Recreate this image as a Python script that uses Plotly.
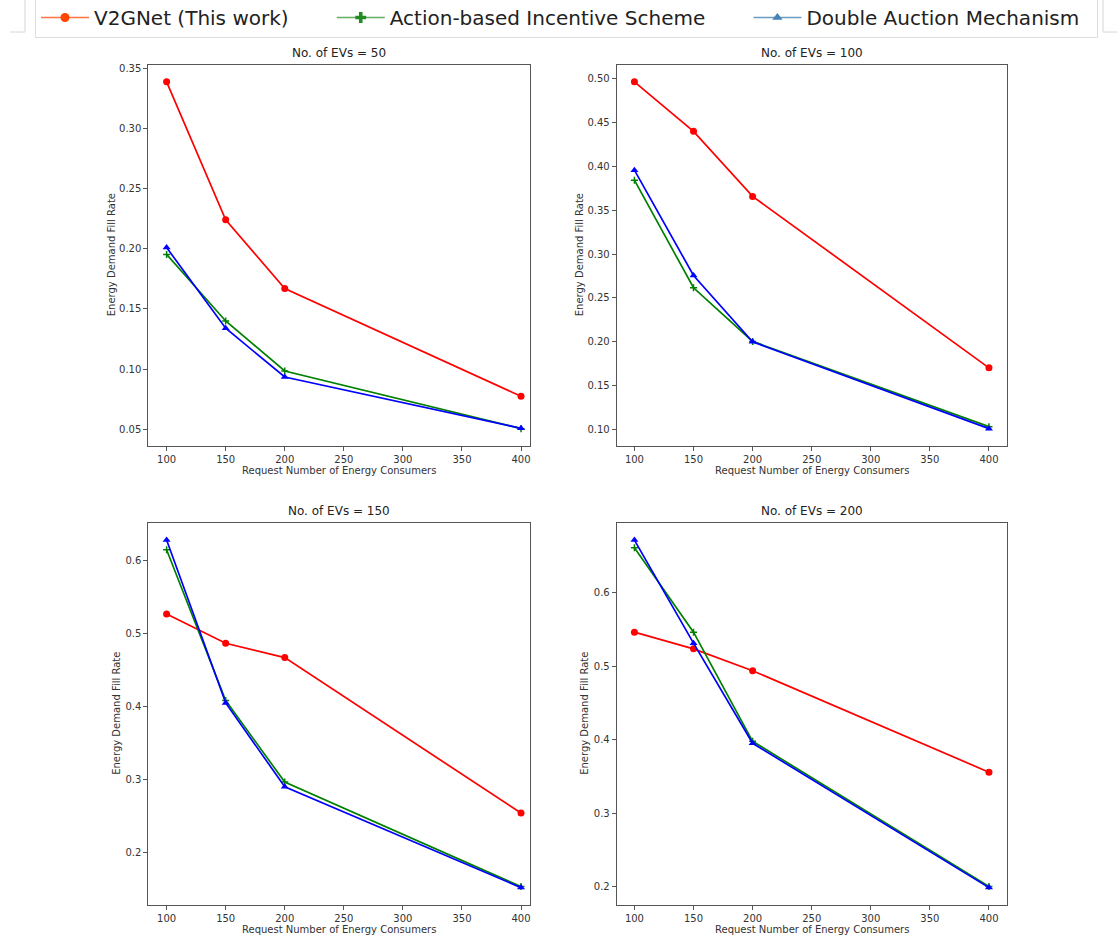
import plotly.graph_objects as go

W, H = 1117, 939

consumers = [100, 150, 200, 400]
ev_counts = [50, 100, 150, 200]

# Energy demand fill rate per panel (No. of EVs)
v2gnet = {
    50: [0.3387, 0.224, 0.167, 0.0774],
    100: [0.4962, 0.4398, 0.3657, 0.1704],
    150: [0.5261, 0.486, 0.4664, 0.2534],
    200: [0.5462, 0.5235, 0.4937, 0.3557],
}
action_based = {
    50: [0.1953, 0.140, 0.0984, 0.0505],
    100: [0.3842, 0.2616, 0.2005, 0.1034],
    150: [0.6141, 0.4075, 0.2958, 0.1526],
    200: [0.6611, 0.5462, 0.3977, 0.2000],
}
double_auction = {
    50: [0.201, 0.134, 0.0934, 0.0508],
    100: [0.3956, 0.2756, 0.2000, 0.1011],
    150: [0.6274, 0.4043, 0.2894, 0.1512],
    200: [0.6715, 0.5312, 0.3950, 0.1986],
}

series_names = ["V2GNet (This work)", "Action-based Incentive Scheme", "Double Auction Mechanism"]
x_ticks = [100, 150, 200, 250, 300, 350, 400]
y_ticks = {
    50: [0.05, 0.10, 0.15, 0.20, 0.25, 0.30, 0.35],
    100: [0.10, 0.15, 0.20, 0.25, 0.30, 0.35, 0.40, 0.45, 0.50],
    150: [0.2, 0.3, 0.4, 0.5, 0.6],
    200: [0.2, 0.3, 0.4, 0.5, 0.6],
}
y_fmt = {50: ".2f", 100: ".2f", 150: ".1f", 200: ".1f"}

# panel geometry in pixels (left, right, top, bottom)
panels = {
    50: (148.3, 530.0, 64.5, 446.0),
    100: (616.7, 1006.7, 64.5, 446.0),
    150: (148.3, 530.0, 522.7, 905.0),
    200: (616.7, 1006.7, 522.7, 905.0),
}
ytitle_x = {50: 111, 100: 579, 150: 117, 200: 585}
x_ranges = {50: [84.5, 407.6], 100: [85, 415], 150: [84.5, 407.6], 200: [85, 415]}

FONT = "DejaVu Sans"
fig = go.Figure()
layout = dict(
    width=W, height=H, autosize=False,
    margin=dict(l=0, r=0, t=0, b=0, autoexpand=False),
    paper_bgcolor="white", plot_bgcolor="white",
    font=dict(family=FONT, size=10, color="#333"),
    showlegend=True,
)
annotations = []

for i, n in enumerate(ev_counts):
    idx = "" if i == 0 else str(i + 1)
    xa, ya = "x" + idx, "y" + idx
    l, r, t, b = panels[n]
    vals_all = v2gnet[n] + action_based[n] + double_auction[n]
    lo, hi = min(vals_all), max(vals_all)
    pad = 0.05 * (hi - lo)

    fig.add_trace(go.Scatter(x=consumers, y=v2gnet[n], mode="lines+markers", xaxis=xa, yaxis=ya,
                             line=dict(color="#ff0000", width=1.7),
                             marker=dict(symbol="circle", size=7, color="#ff0000"),
                             showlegend=False, name=series_names[0]))
    fig.add_trace(go.Scatter(x=consumers, y=action_based[n], mode="lines+markers", xaxis=xa, yaxis=ya,
                             line=dict(color="#008000", width=1.7),
                             marker=dict(symbol="cross-thin", size=5, color="#008000",
                                         line=dict(color="#008000", width=1.5)),
                             showlegend=False, name=series_names[1]))
    fig.add_trace(go.Scatter(x=consumers, y=double_auction[n], mode="lines+markers", xaxis=xa, yaxis=ya,
                             line=dict(color="#0000ff", width=1.7),
                             marker=dict(symbol="triangle-up", size=7, color="#0000ff"),
                             showlegend=False, name=series_names[2]))

    axis_common = dict(showgrid=False, zeroline=False, showline=True, linecolor="#555",
                       linewidth=1, mirror=True, ticks="outside", ticklen=4, tickcolor="#555",
                       automargin=False,
                       tickfont=dict(family=FONT, size=10, color="#333"))
    layout["xaxis" + idx] = dict(axis_common, domain=[l / W, r / W], anchor=ya,
                                 range=x_ranges[n], tickvals=x_ticks)
    layout["yaxis" + idx] = dict(axis_common, domain=[1 - b / H, 1 - t / H], anchor=xa,
                                 range=[lo - pad, hi + pad], tickvals=y_ticks[n],
                                 tickformat=y_fmt[n])
    annotations.append(dict(text=f"No. of EVs = {n}", x=(l + r) / 2 / W, y=1 - (t - 3) / H,
                            xref="paper", yref="paper", xanchor="center", yanchor="bottom",
                            showarrow=False, font=dict(family=FONT, size=12, color="#222")))
    annotations.append(dict(text="Request Number of Energy Consumers", x=(l + r) / 2 / W,
                            y=1 - (b + 24) / H, xref="paper", yref="paper",
                            xanchor="center", yanchor="middle", showarrow=False,
                            font=dict(family=FONT, size=10, color="#333")))
    annotations.append(dict(text="Energy Demand Fill Rate", x=ytitle_x[n] / W,
                            y=1 - (t + b) / 2 / H, xref="paper", yref="paper",
                            xanchor="center", yanchor="middle", textangle=-90, showarrow=False,
                            font=dict(family=FONT, size=10, color="#333")))

# legend entries (figure-level legend with its own handle styles)
legend_styles = [
    dict(line=dict(color="rgba(255,69,0,0.75)", width=1.5),
         marker=dict(symbol="circle", size=9, color="#ff4500")),
    dict(line=dict(color="rgba(34,139,34,0.7)", width=1.5),
         marker=dict(symbol="cross", size=9, color="#228b22")),
    dict(line=dict(color="rgba(70,130,180,0.8)", width=1.5),
         marker=dict(symbol="triangle-up", size=9, color="#4682b4")),
]
pads = ["\u00a0" * 6, "\u00a0" * 6, "\u00a0" * 2]
for name, st, p in zip(series_names, legend_styles, pads):
    fig.add_trace(go.Scatter(x=[None], y=[None], mode="lines+markers", name=name + p,
                             showlegend=True, **st))

layout["legend"] = dict(orientation="h", x=35 / W, y=1.0 + 3 / H, xanchor="left", yanchor="top",
                        bgcolor="white", bordercolor="#dddddd", borderwidth=1,
                        font=dict(family=FONT, size=20, color="#222"),
                        itemwidth=48, tracegroupgap=0)
layout["annotations"] = annotations
# faint frame corners of the surrounding page, behind the legend
layout["shapes"] = [
    dict(type="path", xref="paper", yref="paper", layer="below",
         path=f"M {10 / W},{1 - 32 / H} L {25 / W},{1 - 32 / H} L {25 / W},1",
         line=dict(color="#d6d6d6", width=1)),
    dict(type="path", xref="paper", yref="paper", layer="below",
         path=f"M {1103 / W},1 L {1103 / W},{1 - 32 / H} L 1,{1 - 32 / H}",
         line=dict(color="#d6d6d6", width=1)),
]
fig.update_layout(**layout)
fig.write_html("out.html", post_script="document.body.style.margin='0';",
               config={"displayModeBar": False})
